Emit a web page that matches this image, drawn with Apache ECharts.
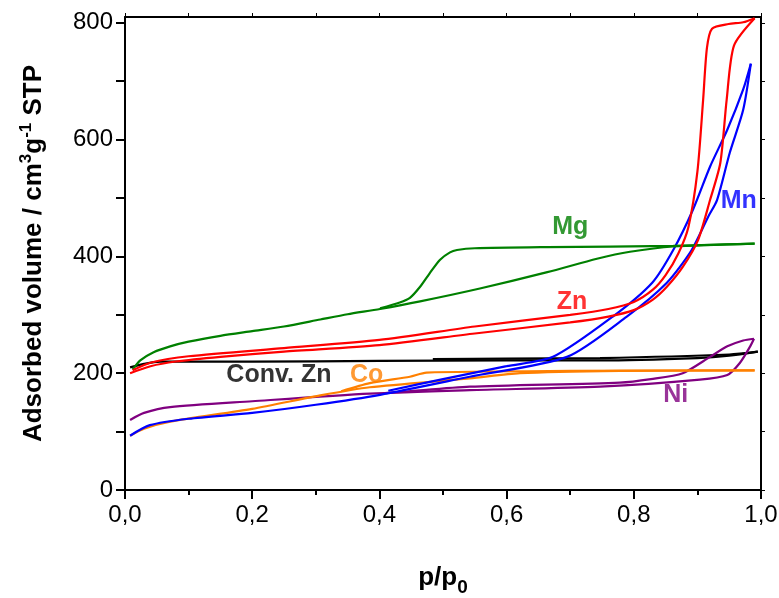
<!DOCTYPE html>
<html><head><meta charset="utf-8">
<script src="https://cdn.jsdelivr.net/npm/echarts@6/dist/echarts.min.js"></script>
<style>html,body{margin:0;padding:0;background:#fff}#c{width:779px;height:598px}</style>
</head><body><div id="c"></div>
<script>
// ---- data (p/p0 , adsorbed volume) ----
const mgAdsP = [0.012,0.024,0.045,0.071,0.1,0.15,0.2,0.25,0.307,0.35,0.401,0.464,0.558,0.664,0.742,0.794,0.862,0.99];
const mgAdsV = [206,222,236,246,254,264,272,280,292,301,310,323,345,373,396,408,417,422];
const mgDesP = [0.99,0.862,0.664,0.55,0.522,0.511,0.495,0.479,0.464,0.448,0.432,0.401];
const mgDesV = [422,418,416,414,411,407,394,371,348,329,321,311];

const znAdsP = [0.008,0.04,0.08,0.15,0.25,0.4,0.55,0.7,0.76,0.8,0.83,0.852,0.877,0.901,0.92,0.936,0.946,0.9575,0.99];
const znAdsV = [200,212,220,228,237,248,268,287,297,308,326,348,382,428,497,560,668,761,808];
const znDesP = [0.99,0.972,0.949,0.923,0.915,0.909,0.90,0.886,0.87,0.85,0.83,0.8,0.76,0.7,0.55,0.4,0.25,0.1,0.04,0.012];
const znDesV = [808,801,798,790,757,668,545,451,405,368,343,322,310,300,280,257,243,229,218,205];

const mnAdsP = [0.008,0.039,0.1,0.2,0.3,0.401,0.542,0.695,0.789,0.852,0.891,0.917,0.931,0.951,0.972,0.984];
const mnAdsV = [93,111,122,132,146,163,194,228,297,355,411,468,497,578,651,730];
const mnDesP = [0.984,0.972,0.947,0.92,0.893,0.862,0.829,0.767,0.673,0.6,0.5,0.414];
const mnDesV = [730,686,617,554,480,411,355,297,228,212,190,170];

const coAdsP = [0.008,0.03,0.071,0.2,0.307,0.385,0.542,0.621,0.778,0.99];
const coAdsV = [93,105,117,139,162,176,191,200,204,205];
const coDesP = [0.99,0.7,0.474,0.448,0.385,0.34];
const coDesV = [205,204,201,194,183,169];

const niAdsP = [0.008,0.03,0.071,0.2,0.385,0.542,0.747,0.904,0.947,0.967,0.983,0.989];
const niAdsV = [120,132,142,152,165,171,177,189,197,218,246,259];
const niDesP = [0.989,0.972,0.947,0.92,0.877,0.827,0.778,0.542,0.437,0.41];
const niDesV = [259,256,246,228,200,190,184,177,168,166];

const cznAdsP = [0.008,0.03,0.055,0.2,0.4,0.6,0.747,0.9,0.95,0.995];
const cznAdsV = [210,216,220,220,221,222,222,226,230,237];
const cznDesP = [0.995,0.95,0.747,0.6,0.484];
const cznDesV = [237,232,226,225,224];

const labelNames = ['Mg','Mn','Zn','Conv. Zn','Co','Ni'];
const labelP = [0.70,0.965,0.703,0.242,0.38,0.866];
const labelV = [451,495,322,197,197,163];

const xTicks = [0,0.2,0.4,0.6,0.8,1.0];
const yTicks = [0,200,400,600,800];

// ---- styling ----
const FONT = 'Arial, "Liberation Sans", Helvetica, sans-serif';
const colors = {Mg:'#008000',Zn:'#ff0000',Mn:'#0000ff',Co:'#ff8000',Ni:'#800080','Conv. Zn':'#000000'};
const pairs = (p,v) => p.map((x,i)=>[x,v[i]]);
function lineSeries(name,p,v){
  return {type:'line',name:name,data:pairs(p,v),showSymbol:false,symbol:'none',
    lineStyle:{color:colors[name],width:2.2},itemStyle:{color:colors[name]},smooth:0.25,animation:false,xAxisIndex:0,yAxisIndex:0,z:3};
}
const series = [
  lineSeries('Conv. Zn',cznAdsP,cznAdsV), lineSeries('Conv. Zn',cznDesP,cznDesV),
  lineSeries('Ni',niAdsP,niAdsV), lineSeries('Ni',niDesP,niDesV),
  lineSeries('Co',coAdsP,coAdsV), lineSeries('Co',coDesP,coDesV),
  lineSeries('Mn',mnAdsP,mnAdsV), lineSeries('Mn',mnDesP,mnDesV),
  lineSeries('Mg',mgAdsP,mgAdsV), lineSeries('Mg',mgDesP,mgDesV),
  lineSeries('Zn',znAdsP,znAdsV), lineSeries('Zn',znDesP,znDesV),
  {type:'scatter',symbolSize:0,animation:false,silent:true,z:5,
    data:labelNames.map((n,i)=>({name:n,value:[labelP[i],labelV[i]],
      label:{show:true,position:'inside',formatter:n,color:colors[n],fontSize:25,fontWeight:'bold',fontFamily:FONT}}))}
];
const axisLine = {show:true,onZero:false,lineStyle:{color:'#000',width:2}};
const fmtX = v => v.toFixed(1).replace('.',',');
const option = {
  backgroundColor:'#fff',
  animation:false,
  grid:{left:125,right:18,top:17,bottom:108,containLabel:false,outerBoundsMode:'none'},
  xAxis:[
    {type:'value',min:0,max:1,interval:0.2,position:'bottom',axisLine:axisLine,
     axisTick:{show:true,inside:false,length:9,lineStyle:{width:2,color:'#000'}},
     minorTick:{show:true,splitNumber:2,length:5,lineStyle:{width:2,color:'#000'}},
     splitLine:{show:false},
     axisLabel:{fontSize:24,color:'#000',fontFamily:FONT,margin:13,formatter:fmtX,customValues:xTicks},
     name:'{a|p/p}{b|0}',nameLocation:'middle',nameGap:69,
     nameTextStyle:{rich:{a:{fontSize:26,fontWeight:'bold',fontFamily:FONT,color:'#000'},
                          b:{fontSize:19,fontWeight:'bold',fontFamily:FONT,color:'#000',padding:[19,0,0,0]}}}},
    {type:'value',min:0,max:1,interval:0.2,position:'top',axisLine:axisLine,
     axisTick:{show:true,inside:false,length:4,lineStyle:{width:1,color:'#000'}},
     minorTick:{show:true,splitNumber:2,length:4,lineStyle:{width:1,color:'#000'}},
     splitLine:{show:false},axisLabel:{show:false}}
  ],
  yAxis:[
    {type:'value',min:0,max:810,position:'left',axisLine:axisLine,
     axisTick:{show:true,inside:false,length:9,customValues:[0,100,200,300,400,500,600,700,800],lineStyle:{width:2,color:'#000'}},
     splitLine:{show:false},
     axisLabel:{fontSize:24,color:'#000',fontFamily:FONT,margin:12,customValues:yTicks},
     name:'{a|Adsorbed volume / cm}{s|3}{a|g}{s|-1}{a| STP}',nameLocation:'middle',nameGap:76,
     nameTextStyle:{rich:{a:{fontSize:26,fontWeight:'bold',fontFamily:FONT,color:'#000'},
                          s:{fontSize:17,fontWeight:'bold',fontFamily:FONT,color:'#000',padding:[0,0,14,0]}}}},
    {type:'value',min:0,max:810,position:'right',axisLine:axisLine,
     axisTick:{show:true,inside:false,length:4,customValues:[0,100,200,300,400,500,600,700,800],lineStyle:{width:1,color:'#000'}},
     splitLine:{show:false},axisLabel:{show:false}}
  ],
  series:series
};
const chart = echarts.init(document.getElementById('c'),null,{renderer:'canvas'});
chart.setOption(option);
</script></body></html>
